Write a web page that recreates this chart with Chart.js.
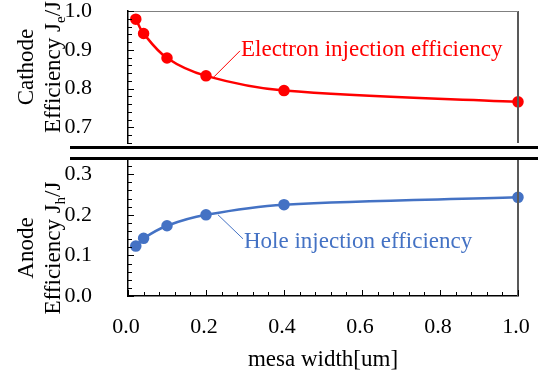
<!DOCTYPE html>
<html>
<head>
<meta charset="utf-8">
<script src="https://cdn.jsdelivr.net/npm/chart.js@4/dist/chart.umd.min.js"></script>
<style>
  body { margin: 0; background: #fff; }
  #wrap { position: relative; width: 538px; height: 371px; }
  .pane { position: absolute; left: 0; width: 538px; }
  .brk { position: absolute; left: 70px; width: 468px; height: 3px; background: #000; }
</style>
</head>
<body>
<div id="wrap">
  <div class="pane" style="top:0;height:150px"><canvas id="topChart"></canvas></div>
  <div class="pane" style="top:150px;height:221px"><canvas id="bottomChart"></canvas></div>
  <div class="brk" style="top:146px"></div>
  <div class="brk" style="top:157px"></div>
</div>
<script>
// mesa width [um]
const widths = [0.02, 0.04, 0.1, 0.2, 0.4, 1.0];
// injection efficiencies
const electronEff = [0.979, 0.942, 0.879, 0.833, 0.795, 0.766];
const holeEff = [0.123, 0.142, 0.173, 0.200, 0.225, 0.243];
// labelled ticks
const xLabels = [0.0, 0.2, 0.4, 0.6, 0.8, 1.0];
const cathodeLabels = [0.7, 0.8, 0.9, 1.0];
const anodeLabels = [0.0, 0.1, 0.2, 0.3];

const RED = '#ff0000';
const BLUE = '#4472c4';
const SERIF = '"Liberation Serif", "Times New Roman", serif';

const isIn = (list, v) => list.some(m => Math.abs(m - v) < 1e-6);
const points = ys => widths.map((x, i) => ({ x: x, y: ys[i] }));

// draws rotated title made of parts, some of them subscript
function rotTitle(ctx, x, y, parts) {
  ctx.save();
  ctx.translate(x, y);
  ctx.rotate(-Math.PI / 2);
  ctx.fillStyle = '#000';
  ctx.textBaseline = 'alphabetic';
  let w = 0;
  parts.forEach(p => {
    ctx.font = (p.sub ? 15 : 23) + 'px ' + SERIF;
    w += ctx.measureText(p.t).width;
  });
  let cx = -w / 2;
  parts.forEach(p => {
    ctx.font = (p.sub ? 15 : 23) + 'px ' + SERIF;
    ctx.fillText(p.t, cx, p.sub ? 5 : 0);
    cx += ctx.measureText(p.t).width;
  });
  ctx.restore();
}

const decor = {
  id: 'decor',
  afterDraw(chart, args, o) {
    const { ctx, chartArea: a, scales } = chart;
    ctx.save();
    // frame
    ctx.strokeStyle = '#595959';
    ctx.lineWidth = 2;
    ctx.beginPath();
    ctx.moveTo(a.right, a.top);
    ctx.lineTo(a.right, a.bottom);
    ctx.stroke();
    if (o.topLine) {
      ctx.strokeStyle = '#808080';
      ctx.lineWidth = 1;
      ctx.beginPath();
      ctx.moveTo(a.left, a.top + 0.5);
      ctx.lineTo(a.right, a.top + 0.5);
      ctx.stroke();
    }
    // inward tick marks
    ctx.strokeStyle = '#000';
    ctx.lineWidth = 1;
    ctx.beginPath();
    scales.y.ticks.forEach(t => {
      const y = Math.round(scales.y.getPixelForValue(t.value)) + 0.5;
      const len = isIn(o.yMajor, t.value) ? 6 : 4;
      ctx.moveTo(a.left, y);
      ctx.lineTo(a.left + len, y);
    });
    if (o.xTicks) {
      scales.x.ticks.forEach(t => {
        const x = Math.round(scales.x.getPixelForValue(t.value)) + 0.5;
        const len = isIn(xLabels, t.value) ? 6 : 4;
        ctx.moveTo(x, a.bottom);
        ctx.lineTo(x, a.bottom - len);
      });
    }
    ctx.stroke();
    // series label with leader line
    const n = o.note;
    const el = chart.getDatasetMeta(0).data[n.index];
    ctx.strokeStyle = n.color;
    ctx.fillStyle = n.color;
    ctx.lineWidth = 1;
    ctx.beginPath();
    ctx.moveTo(el.x + n.from[0], el.y + n.from[1]);
    ctx.lineTo(el.x + n.to[0], el.y + n.to[1]);
    ctx.stroke();
    ctx.font = '23px ' + SERIF;
    ctx.textBaseline = 'middle';
    ctx.fillText(n.text, el.x + n.at[0], el.y + n.at[1]);
    ctx.restore();
    // axis titles
    o.titles.forEach(t => rotTitle(ctx, t.x, t.y, t.parts));
  }
};

function yAxis(min, max, labels) {
  return {
    type: 'linear', min: min, max: max,
    afterFit(s) { s.width = 128; s.paddingTop = 0; s.paddingBottom = 0; },
    grid: { display: false },
    border: { display: true, color: '#000', width: 1.5 },
    ticks: {
      stepSize: 0.02, autoSkip: false, padding: 28, color: '#000',
      font: { family: SERIF, size: 22 },
      callback: v => isIn(labels, v) ? v.toFixed(1) : ''
    }
  };
}

function dataset(ys, color) {
  return {
    data: points(ys),
    showLine: true,
    borderColor: color, backgroundColor: color,
    borderWidth: 2.5, pointRadius: 4.5, pointHoverRadius: 4.5,
    tension: 0.35, clip: false
  };
}

new Chart(document.getElementById('topChart'), {
  type: 'scatter',
  data: { datasets: [dataset(electronEff, RED)] },
  options: {
    responsive: true, maintainAspectRatio: false, animation: false,
    layout: { padding: { top: 11, right: 20, bottom: 2.3, left: 0 } },
    plugins: {
      legend: { display: false }, tooltip: { enabled: false },
      decor: {
        topLine: true, xTicks: false, yMajor: cathodeLabels,
        note: { index: 3, color: RED, text: 'Electron injection efficiency',
                from: [8, 1], to: [34, -25], at: [35, -26] },
        titles: [
          { x: 33, y: 67, parts: [{ t: 'Cathode' }] },
          { x: 60, y: 67, parts: [{ t: 'Efficiency J' }, { t: 'e', sub: true }, { t: '/J' }] }
        ]
      }
    },
    scales: {
      x: { type: 'linear', min: 0, max: 1, display: false },
      y: yAxis(0.66, 1.0, cathodeLabels)
    }
  },
  plugins: [decor]
});

new Chart(document.getElementById('bottomChart'), {
  type: 'scatter',
  data: { datasets: [dataset(holeEff, BLUE)] },
  options: {
    responsive: true, maintainAspectRatio: false, animation: false,
    layout: { padding: { top: 8, right: 20, bottom: 0, left: 0 } },
    plugins: {
      legend: { display: false }, tooltip: { enabled: false },
      decor: {
        topLine: false, xTicks: true, yMajor: anodeLabels,
        note: { index: 3, color: BLUE, text: 'Hole injection efficiency',
                from: [12, 0], to: [37, 24], at: [38, 27] },
        titles: [
          { x: 33, y: 98, parts: [{ t: 'Anode' }] },
          { x: 60, y: 98, parts: [{ t: 'Efficiency J' }, { t: 'h', sub: true }, { t: '/J' }] }
        ]
      }
    },
    scales: {
      x: {
        type: 'linear', min: 0, max: 1,
        afterFit(s) { s.height = 75; s.paddingLeft = 0; s.paddingRight = 0; },
        grid: { display: false },
        border: { display: true, color: '#000', width: 1.5 },
        ticks: {
          stepSize: 0.04, autoSkip: false, maxRotation: 0, padding: 10, labelOffset: -2,
          color: '#000', font: { family: SERIF, size: 22 },
          callback: v => isIn(xLabels, v) ? v.toFixed(1) : ''
        },
        title: {
          display: true, text: 'mesa width[um]', color: '#000',
          font: { family: SERIF, size: 23, lineHeight: 1 }, padding: { top: 0, bottom: 0 }
        }
      },
      y: yAxis(0, 0.34, anodeLabels)
    }
  },
  plugins: [decor]
});
</script>
</body>
</html>
